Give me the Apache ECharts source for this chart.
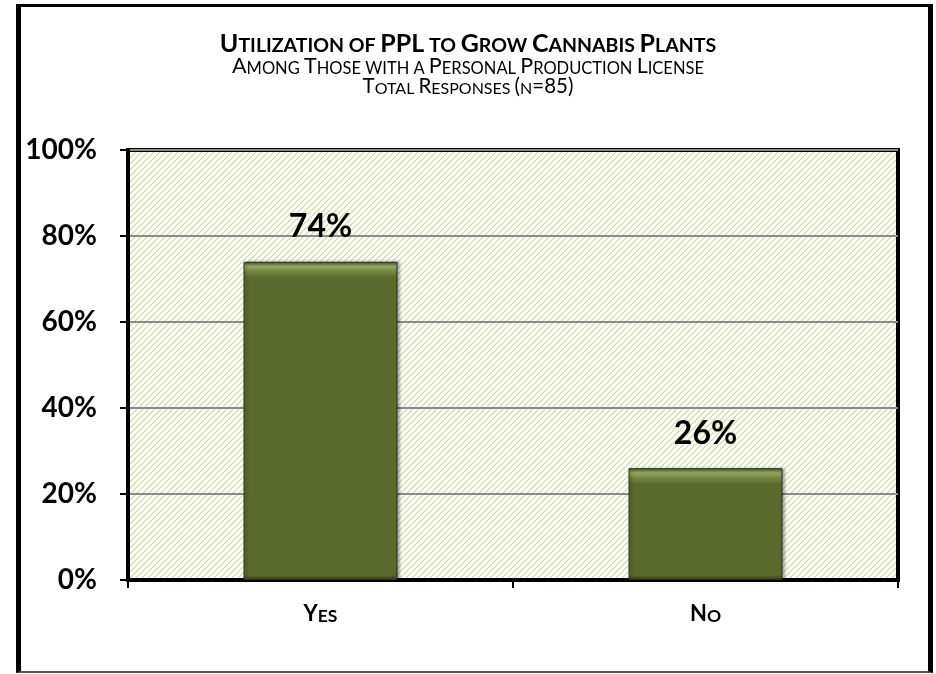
<!DOCTYPE html>
<html>
<head>
<meta charset="utf-8">
<script src="https://cdn.jsdelivr.net/npm/echarts@6/dist/echarts.min.js"></script>
<style>
html,body{margin:0;padding:0;background:#fff;}
#chart{position:absolute;left:0;top:0;width:936px;height:674px;}
#frame{position:absolute;left:16px;top:4px;width:907px;height:664px;border-left:5px solid #000;border-right:5px solid #000;border-top:3px solid #000;border-bottom:2px solid #555;pointer-events:none;}
</style>
</head>
<body>
<div id="chart"></div>
<div id="frame"></div>
<script>
// ---- data ----
var categories = ['Yes', 'No'];
var values = [74, 26];
var yTicks = [0, 20, 40, 60, 80, 100];

// ---- helpers ----
function hatch() {
  var s = 6;
  var c = document.createElement('canvas');
  c.width = s; c.height = s;
  var g = c.getContext('2d');
  g.fillStyle = '#ffffff';
  g.fillRect(0, 0, s, s);
  g.strokeStyle = '#c9dba0';
  g.lineWidth = 1.2;
  g.beginPath();
  g.moveTo(-1, s + 1); g.lineTo(s + 1, -1);
  g.moveTo(-1, 1); g.lineTo(1, -1);
  g.moveTo(s - 1, s + 1); g.lineTo(s + 1, s - 1);
  g.stroke();
  return c;
}
var plotH = 430;
function barStyle(v) {
  var h = v / 100 * plotH;
  var f = Math.min(0.45, 16 / h);
  var b = Math.min(0.2, 5 / h);
  return {
    color: {
      type: 'linear', x: 0, y: 0, x2: 0, y2: 1,
      colorStops: [
        {offset: 0, color: '#4b5a25'},
        {offset: f * 0.3, color: '#93a566'},
        {offset: f * 0.6, color: '#74873f'},
        {offset: f, color: '#5b6b30'},
        {offset: 1 - b, color: '#5a6a2f'},
        {offset: 1, color: '#36411c'}
      ]
    },
    borderColor: '#2c3416',
    borderWidth: 1,
    shadowColor: 'rgba(0,0,0,0.35)',
    shadowBlur: 3,
    shadowOffsetX: 2,
    shadowOffsetY: 0
  };
}

var F = 'Lato, "Open Sans", sans-serif';
function sc(bs, ss, w) {
  return {
    big: {fontFamily: F, fontSize: bs, fontWeight: w, color: '#000', verticalAlign: 'bottom'},
    sm: {fontFamily: F, fontSize: ss, fontWeight: w, color: '#000', verticalAlign: 'bottom'}
  };
}

var chart = echarts.init(document.getElementById('chart'), null, {renderer: 'canvas'});
chart.setOption({
  animation: false,
  backgroundColor: '#fff',
  title: [
    {
      left: 'center', top: 26,
      text: '{big|U}{sm|TILIZATION OF }{big|PPL}{sm| TO }{big|G}{sm|ROW }{big|C}{sm|ANNABIS }{big|P}{sm|LANTS}',
      textStyle: {rich: sc(25, 19.5, 'bold')}
    },
    {
      left: 'center', top: 50,
      text: '{big|A}{sm|MONG }{big|T}{sm|HOSE WITH A }{big|P}{sm|ERSONAL }{big|P}{sm|RODUCTION }{big|L}{sm|ICENSE}',
      textStyle: {rich: sc(21.5, 16.5, 'normal')}
    },
    {
      left: 'center', top: 71,
      text: '{big|T}{sm|OTAL }{big|R}{sm|ESPONSES }{big|(}{sm|N}{big|=85)}',
      textStyle: {rich: sc(20.5, 16, 'normal')}
    }
  ],
  grid: {
    left: 128, top: 150, width: 770, height: plotH,
    show: true,
    backgroundColor: {image: hatch(), repeat: 'repeat'},
    borderColor: '#000',
    borderWidth: 4
  },
  xAxis: {
    type: 'category',
    data: categories,
    axisLine: {lineStyle: {color: '#000', width: 4}},
    axisTick: {show: true, alignWithLabel: false, length: 8, lineStyle: {color: '#000', width: 2}},
    axisLabel: {
      margin: 23,
      formatter: function (v) {
        return '{big|' + v.charAt(0).toUpperCase() + '}{sm|' + v.slice(1).toUpperCase() + '}';
      },
      rich: sc(22, 17.5, 'bold')
    }
  },
  yAxis: {
    type: 'value',
    min: yTicks[0], max: yTicks[yTicks.length - 1], interval: yTicks[1] - yTicks[0],
    axisLine: {show: true, lineStyle: {color: '#000', width: 4}},
    axisTick: {show: true, length: 8, lineStyle: {color: '#000', width: 2}},
    axisLabel: {
      margin: 31,
      formatter: '{value}%',
      fontFamily: F, fontSize: 28, fontWeight: 'bold', color: '#000'
    },
    splitLine: {lineStyle: {color: '#8a8a8a', width: 2}}
  },
  series: [{
    type: 'bar',
    barWidth: '40%',
    data: values.map(function (v) { return {value: v, itemStyle: barStyle(v)}; }),
    label: {
      show: true, position: 'top', distance: 19,
      formatter: '{c}%',
      fontFamily: F, fontSize: 32, fontWeight: 'bold', color: '#000'
    }
  }]
});
</script>
</body>
</html>
